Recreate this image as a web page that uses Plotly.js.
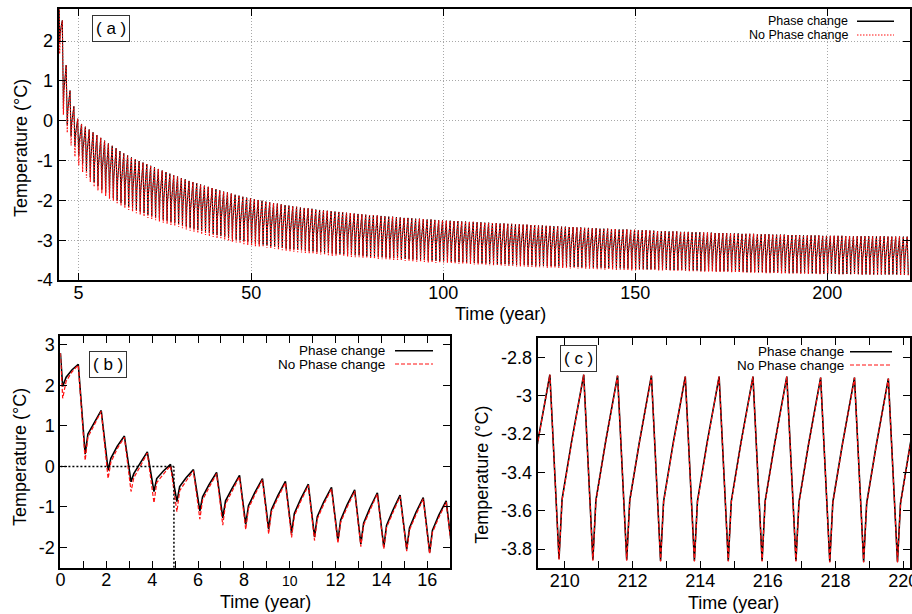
<!DOCTYPE html>
<html>
<head>
<meta charset="utf-8">
<script src="https://cdn.plot.ly/plotly-3.0.1.min.js"></script>
<style>html,body{margin:0;padding:0;background:#fff;}#chart{width:912px;height:614px;}</style>
</head>
<body>
<div id="chart"></div>
<script>
// ---------------- DATA ----------------
// Panel (a): 0-220 years. Start of record, then yearly peak / trough values
const aHeadX = [0, 0.1, 0.25, 0.5];
const aHeadBlack = [2.8, 1.97, 2.2, 2.38];
const aHeadRed = [2.8, 1.68, 2.1, 2.33];
// peak of year k (k = 0..220)
const peakA = [
 2.52, 1.40, 0.76, 0.36, 0.05, -0.08, -0.15, -0.22, -0.29, -0.36,
 -0.43, -0.50, -0.57, -0.63, -0.69, -0.76, -0.82, -0.87, -0.92, -0.97,
 -1.01, -1.05, -1.09, -1.13, -1.17, -1.21, -1.25, -1.29, -1.33, -1.37,
 -1.40, -1.44, -1.47, -1.51, -1.54, -1.57, -1.60, -1.63, -1.66, -1.69,
 -1.72, -1.75, -1.78, -1.80, -1.83, -1.86, -1.88, -1.91, -1.93, -1.95,
 -1.97, -1.99, -2.01, -2.03, -2.05, -2.07, -2.08, -2.10, -2.12, -2.13,
 -2.15, -2.16, -2.18, -2.19, -2.20, -2.21, -2.23, -2.24, -2.25, -2.26,
 -2.27, -2.28, -2.29, -2.30, -2.31, -2.32, -2.33, -2.34, -2.35, -2.36,
 -2.37, -2.37, -2.38, -2.39, -2.40, -2.41, -2.41, -2.42, -2.43, -2.44,
 -2.44, -2.45, -2.46, -2.46, -2.47, -2.48, -2.48, -2.49, -2.50, -2.50,
 -2.51, -2.51, -2.52, -2.52, -2.53, -2.53, -2.54, -2.54, -2.55, -2.55,
 -2.56, -2.56, -2.57, -2.57, -2.58, -2.58, -2.59, -2.59, -2.60, -2.60,
 -2.61, -2.61, -2.62, -2.62, -2.63, -2.63, -2.64, -2.64, -2.65, -2.65,
 -2.66, -2.66, -2.67, -2.67, -2.68, -2.68, -2.69, -2.69, -2.70, -2.70,
 -2.71, -2.71, -2.71, -2.72, -2.72, -2.73, -2.73, -2.73, -2.74, -2.74,
 -2.75, -2.75, -2.75, -2.76, -2.76, -2.77, -2.77, -2.77, -2.78, -2.78,
 -2.78, -2.79, -2.79, -2.79, -2.80, -2.80, -2.80, -2.81, -2.81, -2.81,
 -2.82, -2.82, -2.82, -2.82, -2.83, -2.83, -2.83, -2.84, -2.84, -2.84,
 -2.84, -2.85, -2.85, -2.85, -2.85, -2.86, -2.86, -2.86, -2.86, -2.87,
 -2.87, -2.87, -2.87, -2.88, -2.88, -2.88, -2.88, -2.88, -2.89, -2.89,
 -2.89, -2.89, -2.89, -2.89, -2.90, -2.90, -2.90, -2.90, -2.90, -2.90,
 -2.90, -2.90, -2.90, -2.90, -2.90, -2.91, -2.91, -2.91, -2.91, -2.91, -2.91
];
// trough following the peak of year k (Phase change)
const troughA = [
 0.30, -0.10, -0.38, -0.62, -0.87, -1.08, -1.26, -1.42, -1.54, -1.64,
 -1.73, -1.81, -1.88, -1.94, -2.00, -2.06, -2.11, -2.16, -2.20, -2.24,
 -2.28, -2.32, -2.36, -2.39, -2.42, -2.45, -2.48, -2.51, -2.54, -2.56,
 -2.59, -2.62, -2.65, -2.68, -2.71, -2.74, -2.77, -2.79, -2.82, -2.84,
 -2.87, -2.89, -2.91, -2.94, -2.96, -2.98, -3.00, -3.02, -3.04, -3.06,
 -3.08, -3.10, -3.11, -3.13, -3.15, -3.16, -3.18, -3.19, -3.21, -3.22,
 -3.23, -3.24, -3.25, -3.26, -3.27, -3.28, -3.29, -3.30, -3.31, -3.32,
 -3.33, -3.34, -3.34, -3.35, -3.36, -3.37, -3.38, -3.38, -3.39, -3.40,
 -3.41, -3.41, -3.42, -3.43, -3.43, -3.44, -3.45, -3.45, -3.46, -3.47,
 -3.47, -3.48, -3.49, -3.49, -3.50, -3.51, -3.51, -3.52, -3.52, -3.53,
 -3.53, -3.54, -3.54, -3.55, -3.55, -3.56, -3.56, -3.57, -3.57, -3.58,
 -3.58, -3.59, -3.59, -3.60, -3.60, -3.60, -3.61, -3.61, -3.62, -3.62,
 -3.62, -3.63, -3.63, -3.64, -3.64, -3.64, -3.65, -3.65, -3.65, -3.66,
 -3.66, -3.66, -3.67, -3.67, -3.67, -3.68, -3.68, -3.68, -3.69, -3.69,
 -3.69, -3.70, -3.70, -3.70, -3.71, -3.71, -3.71, -3.71, -3.72, -3.72,
 -3.72, -3.73, -3.73, -3.73, -3.73, -3.74, -3.74, -3.74, -3.75, -3.75,
 -3.75, -3.75, -3.76, -3.76, -3.76, -3.76, -3.77, -3.77, -3.77, -3.77,
 -3.78, -3.78, -3.78, -3.78, -3.79, -3.79, -3.79, -3.79, -3.80, -3.80,
 -3.80, -3.80, -3.80, -3.81, -3.81, -3.81, -3.81, -3.82, -3.82, -3.82,
 -3.82, -3.82, -3.83, -3.83, -3.83, -3.83, -3.83, -3.84, -3.84, -3.84,
 -3.84, -3.84, -3.85, -3.85, -3.85, -3.85, -3.85, -3.85, -3.86, -3.86,
 -3.86, -3.86, -3.86, -3.86, -3.86, -3.86, -3.86, -3.86, -3.87, -3.87, -3.87
];
// trough following the peak of year k (No Phase change)
const troughRedA = [
 0.15, -0.30, -0.62, -0.90, -1.12, -1.29, -1.44, -1.54, -1.66, -1.75,
 -1.82, -1.89, -1.96, -2.01, -2.07, -2.13, -2.19, -2.24, -2.28, -2.32,
 -2.36, -2.40, -2.44, -2.47, -2.50, -2.53, -2.56, -2.59, -2.62, -2.64,
 -2.67, -2.70, -2.73, -2.76, -2.79, -2.82, -2.85, -2.87, -2.90, -2.92,
 -2.95, -2.97, -2.99, -3.02, -3.04, -3.06, -3.08, -3.10, -3.12, -3.14,
 -3.15, -3.16, -3.17, -3.19, -3.21, -3.22, -3.24, -3.25, -3.27, -3.28,
 -3.29, -3.30, -3.31, -3.32, -3.33, -3.34, -3.35, -3.36, -3.37, -3.38,
 -3.39, -3.39, -3.39, -3.40, -3.41, -3.42, -3.43, -3.43, -3.44, -3.45,
 -3.46, -3.46, -3.47, -3.48, -3.48, -3.49, -3.50, -3.50, -3.51, -3.52,
 -3.52, -3.53, -3.54, -3.54, -3.55, -3.56, -3.56, -3.57, -3.57, -3.58,
 -3.57, -3.58, -3.58, -3.59, -3.59, -3.60, -3.60, -3.61, -3.61, -3.62,
 -3.62, -3.63, -3.63, -3.64, -3.64, -3.64, -3.65, -3.65, -3.66, -3.66,
 -3.66, -3.67, -3.67, -3.68, -3.68, -3.68, -3.69, -3.69, -3.69, -3.70,
 -3.70, -3.70, -3.71, -3.71, -3.71, -3.72, -3.72, -3.72, -3.73, -3.73,
 -3.73, -3.74, -3.74, -3.74, -3.75, -3.75, -3.75, -3.75, -3.76, -3.76,
 -3.74, -3.75, -3.75, -3.75, -3.75, -3.76, -3.76, -3.76, -3.77, -3.77,
 -3.77, -3.77, -3.78, -3.78, -3.78, -3.78, -3.79, -3.79, -3.79, -3.79,
 -3.80, -3.80, -3.80, -3.80, -3.81, -3.81, -3.81, -3.81, -3.82, -3.82,
 -3.82, -3.82, -3.82, -3.83, -3.83, -3.83, -3.83, -3.84, -3.84, -3.84,
 -3.84, -3.84, -3.85, -3.85, -3.85, -3.85, -3.85, -3.86, -3.86, -3.86,
 -3.85, -3.85, -3.86, -3.86, -3.86, -3.86, -3.86, -3.86, -3.87, -3.87,
 -3.87, -3.87, -3.87, -3.87, -3.87, -3.87, -3.87, -3.87, -3.88, -3.88, -3.88
];

// Panel (b): 0-17 years
const bX = [0, 0.1, 0.25, 0.5, 0.78,
 1.08, 1.2, 1.48, 1.78,
 2.08, 2.2, 2.48, 2.79,
 3.08, 3.2, 3.48, 3.79,
 4.08, 4.2, 4.48, 4.8,
 5.08, 5.2, 5.48, 5.8,
 6.08, 6.2, 6.48, 6.81,
 7.08, 7.2, 7.48, 7.81,
 8.08, 8.2, 8.48, 8.81,
 9.08, 9.2, 9.48, 9.81,
 10.08, 10.2, 10.48, 10.81,
 11.08, 11.2, 11.48, 11.82,
 12.1, 12.22, 12.5, 12.83,
 13.1, 13.22, 13.5, 13.82,
 14.1, 14.22, 14.5, 14.81,
 15.1, 15.22, 15.5, 15.82,
 16.1, 16.22, 16.5, 16.82,
 17.1];
const bBlack = [2.8, 1.97, 2.2, 2.38, 2.52,
 0.3, 0.8, 1.08, 1.38,
 -0.1, 0.2, 0.5, 0.75,
 -0.38, -0.18, 0.08, 0.36,
 -0.62, -0.3, -0.12, 0.05,
 -0.87, -0.5, -0.28, -0.08,
 -1.1, -0.75, -0.45, -0.15,
 -1.27, -0.85, -0.55, -0.22,
 -1.43, -0.97, -0.64, -0.3,
 -1.55, -1.07, -0.72, -0.37,
 -1.65, -1.16, -0.8, -0.44,
 -1.74, -1.24, -0.88, -0.52,
 -1.83, -1.32, -0.95, -0.58,
 -1.92, -1.4, -1.02, -0.65,
 -1.99, -1.46, -1.08, -0.71,
 -2.05, -1.52, -1.14, -0.77,
 -2.12, -1.58, -1.2, -0.85,
 -2.17];
const bRed = [2.8, 1.68, 2.1, 2.33, 2.5,
 0.15, 0.72, 1.03, 1.36,
 -0.3, 0.1, 0.44, 0.72,
 -0.62, -0.28, 0.0, 0.33,
 -0.9, -0.4, -0.2, 0.02,
 -1.12, -0.6, -0.36, -0.11,
 -1.3, -0.83, -0.52, -0.18,
 -1.45, -0.93, -0.62, -0.25,
 -1.56, -1.04, -0.7, -0.33,
 -1.67, -1.13, -0.78, -0.4,
 -1.75, -1.22, -0.86, -0.47,
 -1.83, -1.3, -0.94, -0.55,
 -1.9, -1.38, -1.01, -0.61,
 -1.98, -1.45, -1.08, -0.68,
 -2.04, -1.51, -1.14, -0.74,
 -2.09, -1.57, -1.2, -0.8,
 -2.16, -1.63, -1.26, -0.88,
 -2.22];
const bRefTime = 4.95;   // dotted reference: time where the peak falls below 0
const bRefTemp = 0;

// Panel (c): 209-220 years
const cX = [
 208.83,208.92,209.2,209.38,209.56,
 209.83,209.92,210.2,210.38,210.56,
 210.83,210.92,211.2,211.38,211.56,
 211.83,211.92,212.2,212.38,212.56,
 212.83,212.92,213.2,213.38,213.56,
 213.83,213.92,214.2,214.38,214.56,
 214.83,214.92,215.2,215.38,215.56,
 215.83,215.92,216.2,216.38,216.56,
 216.83,216.92,217.2,217.38,217.56,
 217.83,217.92,218.2,218.38,218.56,
 218.83,218.92,219.2,219.38,219.56,
 219.83,219.92,220.2,220.38,220.56];
const cBlack = [
 -3.85,-3.54,-3.24,-3.07,-2.89,
 -3.85,-3.54,-3.24,-3.07,-2.89,
 -3.855,-3.545,-3.245,-3.075,-2.895,
 -3.855,-3.545,-3.245,-3.075,-2.895,
 -3.86,-3.55,-3.25,-3.08,-2.90,
 -3.86,-3.55,-3.25,-3.08,-2.90,
 -3.86,-3.55,-3.25,-3.08,-2.90,
 -3.86,-3.55,-3.25,-3.08,-2.90,
 -3.86,-3.555,-3.255,-3.085,-2.905,
 -3.865,-3.555,-3.255,-3.085,-2.905,
 -3.865,-3.56,-3.26,-3.09,-2.91,
 -3.865,-3.56,-3.26,-3.09,-2.91];
const cRed = [
 -3.855,-3.545,-3.245,-3.075,-2.89,
 -3.855,-3.545,-3.245,-3.075,-2.89,
 -3.86,-3.55,-3.25,-3.08,-2.895,
 -3.86,-3.55,-3.25,-3.08,-2.895,
 -3.865,-3.555,-3.255,-3.085,-2.90,
 -3.865,-3.555,-3.255,-3.085,-2.90,
 -3.865,-3.555,-3.255,-3.085,-2.90,
 -3.865,-3.555,-3.255,-3.085,-2.90,
 -3.865,-3.56,-3.26,-3.09,-2.905,
 -3.87,-3.56,-3.26,-3.09,-2.905,
 -3.87,-3.565,-3.265,-3.095,-2.91,
 -3.87,-3.565,-3.265,-3.095,-2.91];

// tick labels
const aXTicks = [5, 50, 100, 150, 200];
const aYTicks = [-4, -3, -2, -1, 0, 1, 2];
const bXTicks = [0,1,2,3,4,5,6,7,8,9,10,11,12,13,14,15,16,17];
const bYTicks = [-2, -1, 0, 1, 2, 3];
const cXTicks = [210,211,212,213,214,215,216,217,218,219,220];
const cYTicks = [-3.8, -3.6, -3.4, -3.2, -3, -2.8];
const seriesNames = ['Phase change', 'No Phase change'];

// ---------------- BUILD ----------------
// Shape of one yearly cycle (position inside the year, fraction of the rise)
const PH_PEAK = 0.8, PH_TROUGH = 0.08, PH_SHOULDER = 0.2, PH_MID = 0.48;
const F_SHOULDER = 0.42, F_MID = 0.68;
function buildA(headY, troughs) {
  const xs = aHeadX.slice(), ys = headY.slice();
  for (let k = 0; k < peakA.length; k++) {
    xs.push(k + PH_PEAK); ys.push(peakA[k]);
    const T = troughs[k];
    xs.push(k + 1 + PH_TROUGH); ys.push(T);
    if (k + 1 < peakA.length) {
      const P = peakA[k + 1];
      xs.push(k + 1 + PH_SHOULDER); ys.push(T + F_SHOULDER * (P - T));
      xs.push(k + 1 + PH_MID); ys.push(T + F_MID * (P - T));
    }
  }
  return {x: xs, y: ys};
}
const aB = buildA(aHeadBlack, troughA);
const aR = buildA(aHeadRed, troughRedA);

const FONT = 'Liberation Sans, Arial, Helvetica, sans-serif';
const BLACK = '#000000', RED = '#ff1010';
const DOT_A = '1.5px,1.5px', DASH_B = '4px,2px';

const traces = [
  {x: aB.x, y: aB.y, xaxis: 'x', yaxis: 'y', type: 'scatter', mode: 'lines', name: seriesNames[0],
   line: {color: BLACK, width: 1}},
  {x: aR.x, y: aR.y, xaxis: 'x', yaxis: 'y', type: 'scatter', mode: 'lines', name: seriesNames[1],
   line: {color: RED, width: 1.2, dash: DOT_A}},
  {x: bX, y: bBlack, xaxis: 'x2', yaxis: 'y2', type: 'scatter', mode: 'lines', name: seriesNames[0],
   line: {color: BLACK, width: 1.6}},
  {x: bX, y: bRed, xaxis: 'x2', yaxis: 'y2', type: 'scatter', mode: 'lines', name: seriesNames[1],
   line: {color: RED, width: 1.2, dash: DASH_B}},
  {x: cX, y: cBlack, xaxis: 'x3', yaxis: 'y3', type: 'scatter', mode: 'lines', name: seriesNames[0],
   line: {color: BLACK, width: 1.6}},
  {x: cX, y: cRed, xaxis: 'x3', yaxis: 'y3', type: 'scatter', mode: 'lines', name: seriesNames[1],
   line: {color: RED, width: 1.2, dash: DASH_B}}
];

const W = 912, H = 614;
const fx = p => p / W, fy = p => 1 - p / H;
const hy = v => (v < 0 ? '-' + String(Math.abs(v)) : String(v));

function axisBase(extra) {
  return Object.assign({
    ticks: 'inside', ticklen: 7, tickwidth: 1, tickcolor: BLACK,
    showline: true, linewidth: 2, linecolor: BLACK, mirror: 'allticks',
    zeroline: false, showgrid: false, automargin: false, fixedrange: true,
    ticklabeloverflow: 'allow',
    tickfont: {family: FONT, size: 18, color: BLACK}
  }, extra);
}
const gridStyle = {showgrid: true, gridcolor: '#a8a8a8', gridwidth: 1, griddash: '1px,2px'};
const XLBL = {ticklabelstandoff: -5};

const layout = {
  width: W, height: H,
  margin: {l: 0, r: 0, t: 0, b: 0},
  paper_bgcolor: '#ffffff', plot_bgcolor: '#ffffff',
  showlegend: false,
  font: {family: FONT, color: BLACK},
  xaxis: axisBase(Object.assign({domain: [fx(58.5), fx(909.5)], range: [-0.2, 221.4], anchor: 'y',
    tickvals: aXTicks, ticktext: aXTicks.map(String)}, gridStyle, XLBL)),
  yaxis: axisBase(Object.assign({domain: [fy(280), fy(9.3)], range: [-4, 2.8], anchor: 'x',
    tickvals: aYTicks, ticktext: aYTicks.map(hy)}, gridStyle)),
  xaxis2: axisBase(Object.assign({domain: [fx(60.4), fx(450.3)], range: [0, 17], anchor: 'y2',
    tickvals: bXTicks,
    ticktext: bXTicks.map(v => v % 2 ? '' : (v === 10 ? '<span style="font-size:14px">10</span>' : String(v)))}, XLBL)),
  yaxis2: axisBase({domain: [fy(567.7), fy(335.5)], range: [-2.5, 3.23], anchor: 'x2',
    tickvals: bYTicks, ticktext: bYTicks.map(hy)}),
  xaxis3: axisBase(Object.assign({domain: [fx(537.7), fx(910)], range: [209.2, 220.2], anchor: 'y3',
    tickvals: cXTicks, ticktext: cXTicks.map(v => v % 2 ? '' : String(v))}, XLBL)),
  yaxis3: axisBase({domain: [fy(568.3), fy(338.3)], range: [-3.9, -2.7], anchor: 'x3',
    tickvals: cYTicks, ticktext: cYTicks.map(hy)}),
  shapes: [],
  annotations: []
};

// panel labels
function boxLabel(txt, cx, cy) {
  layout.annotations.push({text: txt, xref: 'paper', yref: 'paper', x: fx(cx), y: fy(cy),
    xanchor: 'center', yanchor: 'middle', showarrow: false,
    font: {family: FONT, size: 17, color: BLACK},
    bordercolor: '#333', borderwidth: 1, borderpad: 3, bgcolor: '#ffffff'});
}
boxLabel('( a )', 111, 28.7);
boxLabel('( b )', 108, 364);
boxLabel('( c )', 578.8, 358);

// axis titles
function title(txt, cx, cy, rot) {
  layout.annotations.push({text: txt, xref: 'paper', yref: 'paper', x: fx(cx), y: fy(cy),
    xanchor: 'center', yanchor: 'middle', showarrow: false, textangle: rot || 0,
    font: {family: FONT, size: 18, color: BLACK}});
}
title('Time (year)', 500.8, 314);
title('Temperature (°C)', 21.7, 148.3, -90);
title('Time (year)', 265, 602);
title('Temperature (°C)', 20, 457, -90);
title('Time (year)', 733.3, 603);
title('Temperature (°C)', 481.7, 475, -90);

// legends (gnuplot style: text then sample)
function legend(rightX, y1, y2, l0, l1, redDash, size) {
  [[seriesNames[0], y1, BLACK, 'solid', 1.5], [seriesNames[1], y2, RED, redDash, 1.2]].forEach(it => {
    layout.annotations.push({text: it[0], xref: 'paper', yref: 'paper', x: fx(rightX), y: fy(it[1]),
      xanchor: 'right', yanchor: 'middle', showarrow: false,
      font: {family: FONT, size: size, color: BLACK}});
    layout.shapes.push({type: 'line', xref: 'paper', yref: 'paper', x0: fx(l0), x1: fx(l1),
      y0: fy(it[1]), y1: fy(it[1]), line: {color: it[2], width: it[4], dash: it[3]}});
  });
}
legend(849.5, 21.3, 35, 857, 894, DOT_A, 12.5);
legend(387, 350.7, 364, 395, 433, DASH_B, 13.5);
legend(846, 351.7, 365, 850, 892, DASH_B, 13.5);

// reference dotted lines in panel (b)
layout.shapes.push({type: 'line', xref: 'x2', yref: 'y2', x0: 0, x1: bRefTime, y0: bRefTemp, y1: bRefTemp,
  line: {color: BLACK, width: 1.5, dash: '2px,2px'}});
layout.shapes.push({type: 'line', xref: 'x2', yref: 'y2', x0: bRefTime, x1: bRefTime, y0: -2.5, y1: bRefTemp,
  line: {color: BLACK, width: 1.5, dash: '2px,2px'}});

Plotly.newPlot('chart', traces, layout, {staticPlot: true, displayModeBar: false});
</script>
</body>
</html>
